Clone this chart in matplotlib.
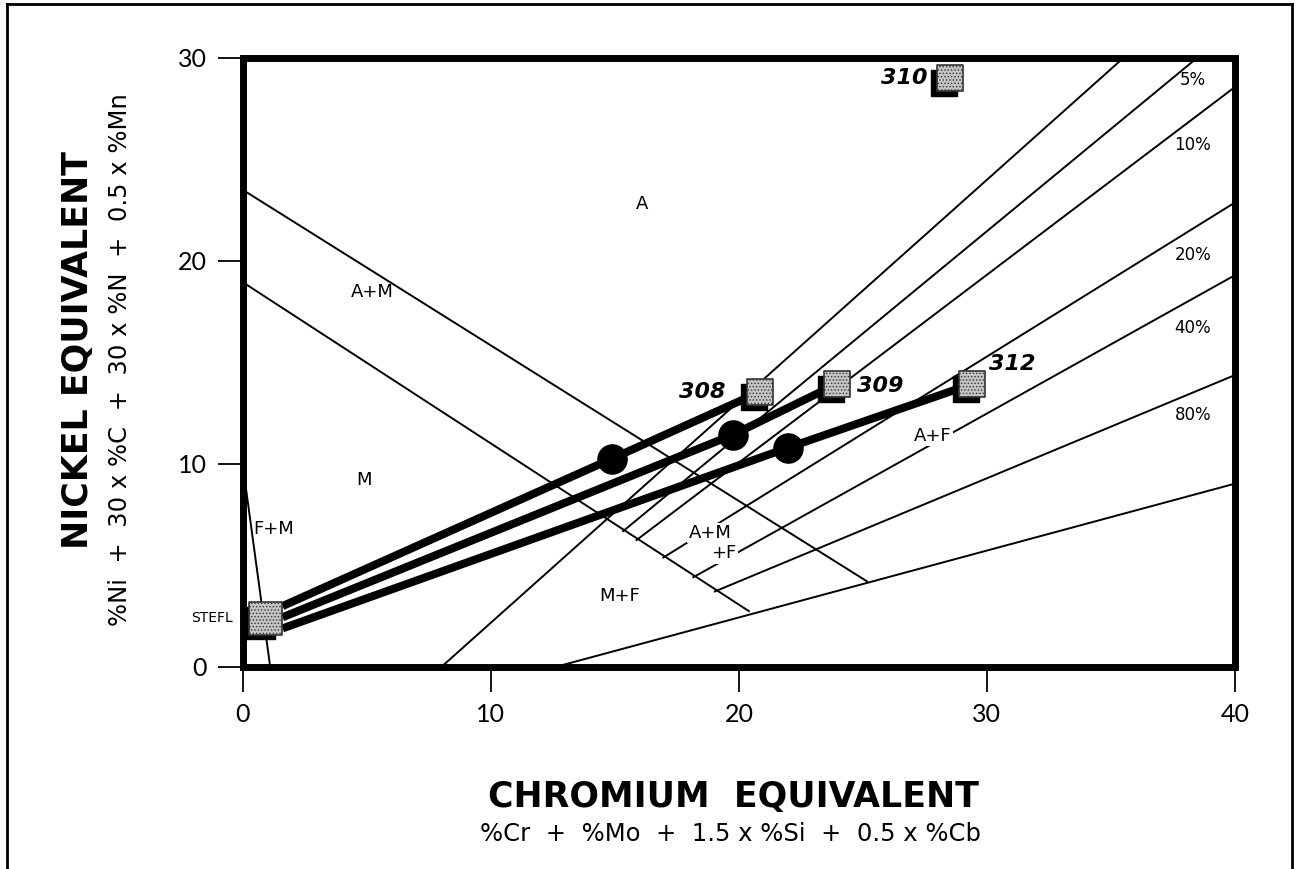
import matplotlib
matplotlib.use("Agg")
from matplotlib import pyplot as plt
from matplotlib.lines import Line2D
from matplotlib import transforms

plt.rcParams['font.family'] = ['DejaVu Sans']
plt.rcParams['hatch.linewidth'] = 0.6

# phase boundary lines of the diagram (Cr eq, Ni eq)
am_oben = [(0, 23.5), (25.16, 4.22)]
am_unten = [(0, 18.95), (20.4, 2.75)]
f_m = [(0.1, 9.0), (1.1, 0)]
ferrit_0 = [(8.0, 0), (35.5, 30)]
ferrit_5 = [(15.33, 6.69), (38.47, 30)]
ferrit_10 = [(15.87, 6.25), (40, 28.57)]
ferrit_20 = [(16.95, 5.39), (40, 22.88)]
ferrit_40 = [(18.16, 4.42), (40, 19.3)]
ferrit_80 = [(19.03, 3.72), (40, 14.38)]
ferrit_100 = [(12.6, 0), (40, 9.03)]
grenzlinien = [am_oben, am_unten, f_m, ferrit_0, ferrit_5, ferrit_10,
               ferrit_20, ferrit_40, ferrit_80, ferrit_100]

# base metal and filler metals
stefl = (0.9, 2.4)
zusatz_namen = ["308", "309", "312"]
zusatz_x = [20.85, 23.95, 29.4]
zusatz_y = [13.55, 13.94, 13.94]
start_y = [3.0, 2.45, 1.9]
start_x = 1.6
# weld metal points (mixing)
punkt_x = [14.88, 19.76, 21.98]
punkt_y = [10.26, 11.44, 10.8]
extra = ("310", 28.5, 29.0)

# region labels
zonen = ["A", "A+M", "M", "F+M", "M+F"]
zonen_x = [16.1, 5.2, 4.9, 1.25, 15.2]
zonen_y = [22.8, 18.45, 9.2, 6.8, 3.5]
zonen_weiss = ["A+M", "+F", "A+F"]
zonen_weiss_x = [18.83, 19.4, 27.8]
zonen_weiss_y = [6.6, 5.6, 11.4]
prozent = ["5%", "10%", "20%", "40%", "80%"]
prozent_y = [28.9, 25.7, 20.3, 16.7, 12.4]

fig = plt.figure(figsize=(12.99, 8.69), dpi=100)
ax = fig.add_axes([0.187, 0.2325, 0.7637, 0.7008])

for linie in grenzlinien:
    xs = [p[0] for p in linie]
    ys = [p[1] for p in linie]
    ax.plot(xs, ys, color='black', lw=1.4, zorder=2)

for i in range(3):
    ax.plot([start_x, punkt_x[i], zusatz_x[i]], [start_y[i], punkt_y[i], zusatz_y[i]],
            color='black', lw=5.8, solid_capstyle='butt', zorder=4)
ax.plot(punkt_x, punkt_y, 'o', color='black', markersize=21, zorder=5)

schatten = transforms.offset_copy(ax.transData, fig=fig, x=-6, y=-5, units='dots')

def quadrat(x, y, s):
    ax.scatter([x], [y], s=s, marker='s', color='black', transform=schatten, zorder=6)
    ax.scatter([x], [y], s=s, marker='s', facecolor='#c4c4c4', edgecolor='#333333',
               hatch='.....', linewidth=1.2, zorder=7)

quadrat(stefl[0], stefl[1], 560)
for i in range(3):
    quadrat(zusatz_x[i], zusatz_y[i], 360)
quadrat(extra[1], extra[2], 360)

fs_zahl = 16
ax.text(zusatz_x[0] - 1.4, zusatz_y[0], zusatz_namen[0], ha='right', va='center',
        fontsize=fs_zahl, fontweight='bold', style='italic', zorder=8)
ax.text(zusatz_x[1] + 0.8, zusatz_y[1] - 0.1, zusatz_namen[1], ha='left', va='center',
        fontsize=fs_zahl, fontweight='bold', style='italic', zorder=8)
ax.text(zusatz_x[2] + 0.7, zusatz_y[2] + 1.0, zusatz_namen[2], ha='left', va='center',
        fontsize=fs_zahl, fontweight='bold', style='italic', zorder=8)
ax.text(extra[1] - 0.9, extra[2], extra[0], ha='right', va='center',
        fontsize=fs_zahl, fontweight='bold', style='italic', zorder=8)

for name, x, y in zip(zonen, zonen_x, zonen_y):
    ax.text(x, y, name, ha='center', va='center', fontsize=13, zorder=3)
for name, x, y in zip(zonen_weiss, zonen_weiss_x, zonen_weiss_y):
    ax.text(x, y, name, ha='center', va='center', fontsize=13, zorder=3,
            bbox=dict(facecolor='white', edgecolor='none', pad=1))
ax.text(-1.25, stefl[1], "STEFL", ha='center', va='center', fontsize=10, clip_on=False)
for p, y in zip(prozent, prozent_y):
    ax.text(38.3, y, p, ha='center', va='center', fontsize=12, zorder=3)

ax.set_xlim(0, 40)
ax.set_ylim(0, 30)
ax.set_xticks([0, 10, 20, 30, 40])
ax.set_yticks([0, 10, 20, 30])
for s in ax.spines.values():
    s.set_linewidth(5)
ax.tick_params(axis='both', direction='out', length=18, width=1.3, labelsize=18, pad=8)
for lab in ax.get_xticklabels() + ax.get_yticklabels():
    lab.set_family(['Lato', 'DejaVu Sans'])

fig.text(733 / 1299, 1 - 797 / 869, "CHROMIUM  EQUIVALENT", ha='center', va='center',
         fontsize=25, fontweight='bold')
fig.text(730 / 1299, 1 - 834 / 869, "%Cr  +  %Mo  +  1.5 x %Si  +  0.5 x %Cb", ha='center',
         va='center', fontsize=17.5)
fig.text(78 / 1299, 1 - 350 / 869, "NICKEL EQUIVALENT", ha='center', va='center',
         fontsize=25, fontweight='bold', rotation=90)
fig.text(120 / 1299, 1 - 360 / 869, "%Ni  +  30 x %C  +  30 x %N  +  0.5 x %Mn", ha='center',
         va='center', fontsize=17.5, rotation=90)

# outer frame
fig.add_artist(Line2D([0.0054, 0.0054], [-0.01, 0.9954], color='black', lw=2))
fig.add_artist(Line2D([0.0054, 0.9946], [0.9954, 0.9954], color='black', lw=2))
fig.add_artist(Line2D([0.9946, 0.9946], [-0.01, 0.9954], color='black', lw=2))

fig.savefig("out.png", dpi=100)
